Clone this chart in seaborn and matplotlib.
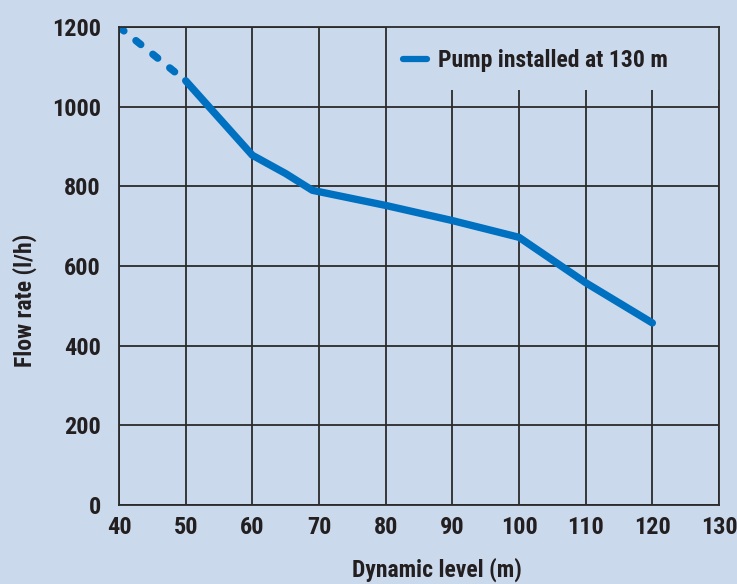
import matplotlib
matplotlib.use("Agg")
import matplotlib.pyplot as plt
from matplotlib.patches import Rectangle
import pandas as pd
import seaborn as sns

# ----------------------------
# Data
# ----------------------------
dynamic_level = [40, 50, 60, 65, 69, 80, 90, 100, 110, 120]
flow_rate = [1200, 1065, 878, 832, 790, 752, 714, 672, 558, 457]
series_label = "Pump installed at 130 m"
x_ticks = [40, 50, 60, 70, 80, 90, 100, 110, 120, 130]
y_ticks = [0, 200, 400, 600, 800, 1000, 1200]

BG = "#cbd9ec"
LINE = "#0070c0"
GRID = "#2b2b2b"
TEXT = "#231f20"

sns.set_theme(style="white")
plt.rcParams["font.family"] = ["Roboto Condensed", "DejaVu Sans"]
plt.rcParams["font.weight"] = "bold"

df = pd.DataFrame({"level": dynamic_level, "flow": flow_rate})
dashed_part = df.iloc[:2]
solid_part = df.iloc[1:]

fig = plt.figure(figsize=(7.37, 5.84), dpi=100, facecolor=BG)
ax = fig.add_axes([0.1615, 0.1353, 0.8141, 0.8185])
ax.set_facecolor(BG)

# extrapolated part (dashed) and measured part (solid)
sns.lineplot(data=dashed_part, x="level", y="flow", ax=ax, color=LINE, lw=5.3,
             dash_capstyle="round", zorder=3)
ax.lines[-1].set_dashes((0.85, 2.1))
sns.lineplot(data=solid_part, x="level", y="flow", ax=ax, color=LINE, lw=5.3,
             solid_capstyle="round", solid_joinstyle="round", label=series_label, zorder=3)

ax.set_xlim(40, 130)
ax.set_ylim(0, 1200)
ax.set_xticks(x_ticks)
ax.set_yticks(y_ticks)
ax.grid(True, color=GRID, lw=1.3, zorder=0.5)
ax.set_axisbelow(True)
for s in ax.spines.values():
    s.set_color(GRID)
    s.set_linewidth(1.3)
    s.set_zorder(10)
ax.tick_params(axis="both", direction="out", length=3, width=1.3, color=GRID,
               labelsize=17.5, labelcolor=TEXT)
ax.tick_params(axis="x", pad=5)
ax.tick_params(axis="y", pad=10)
for lab in ax.get_xticklabels() + ax.get_yticklabels():
    lab.set_fontweight("bold")

ax.set_xlabel("")
ax.set_ylabel("")
fig.text(437 / 737, 1 - 570 / 584, "Dynamic level (m)", ha="center", va="center",
         fontsize=17, fontweight="bold", color=TEXT)
fig.text(25 / 737, 1 - 300 / 584, "Flow rate (l/h)", ha="center", va="center",
         rotation=90, fontsize=17, fontweight="bold", color=TEXT)

# legend area hides the grid behind it
ax.add_patch(Rectangle((0.4467, 0.868), 0.56, 0.14, transform=ax.transAxes,
                       facecolor=BG, edgecolor="none", zorder=1))
leg = ax.legend(loc="center left", bbox_to_anchor=(0.474, 0.93), frameon=False,
                handlelength=1.0, handletextpad=0.45, borderpad=0, borderaxespad=0,
                prop={"size": 17, "weight": "bold"})
for line in leg.get_lines():
    line.set_linewidth(4.5)
for t in leg.get_texts():
    t.set_color(TEXT)

fig.savefig("out.png", dpi=100, facecolor=BG)
